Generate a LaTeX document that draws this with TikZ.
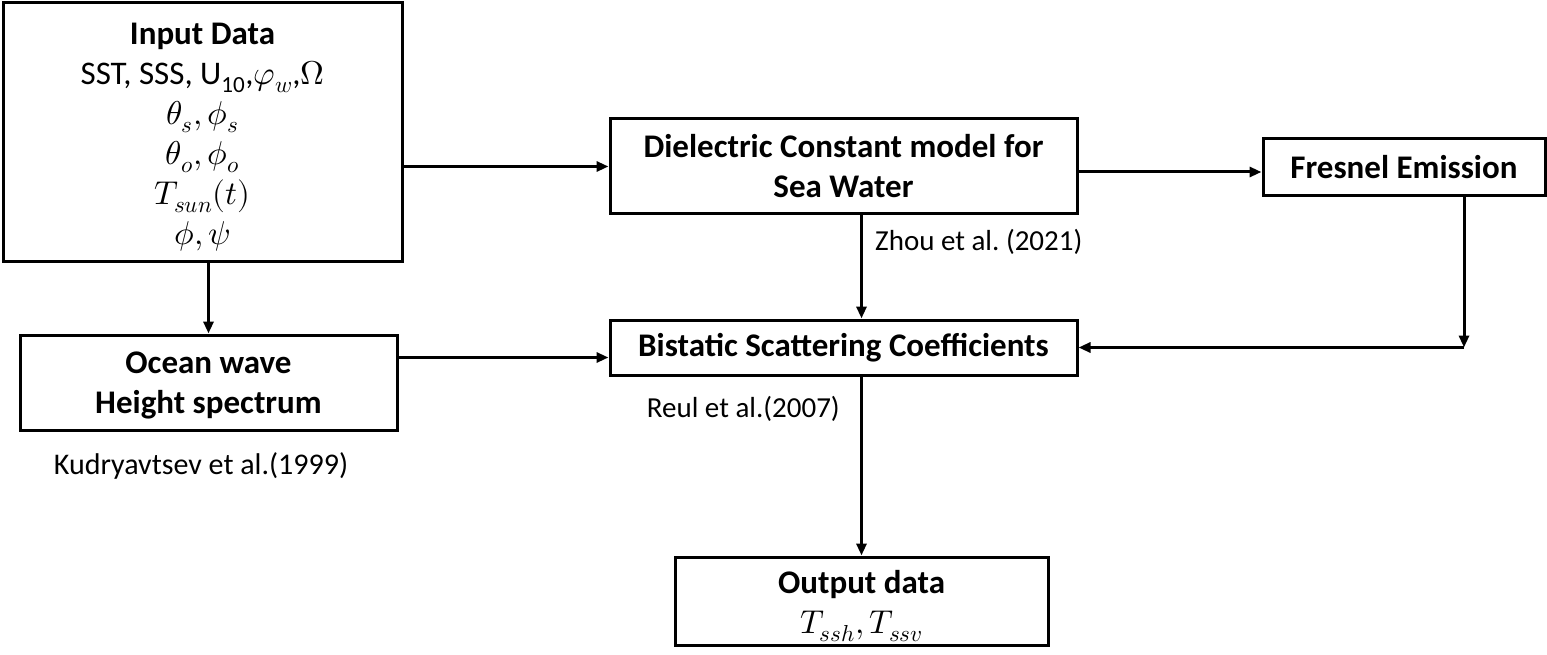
\documentclass[tikz,border=0pt]{standalone}
\usepackage{fontspec}
\usepackage{unicode-math}
\setmainfont{Carlito}
\setmathfont{Latin Modern Math}
\frenchspacing
\usetikzlibrary{arrows.meta}
\begin{document}
\begin{tikzpicture}[x=1pt,y=-1pt,
  box/.style={draw,line width=3pt,align=center,inner sep=0pt,font=\fontsize{33}{40}\selectfont},
  conn/.style={line width=3pt,-{Triangle[length=12pt,width=10pt]}},
  lbl/.style={font=\fontsize{29}{34}\selectfont,inner sep=0pt}]
\useasboundingbox (0,0) rectangle (1547,655);
\node[box,minimum width=399pt,minimum height=258pt] (in) at (202.5,132)
  {\rule{0pt}{31pt}\textbf{Input Data}\\SST, SSS, U\textsubscript{10},$\varphi_w$,$\Omega$\\$\theta_s,\phi_s$\\$\theta_o,\phi_o$\\$T_{sun}(t)$\\$\phi,\psi$};
\node[box,minimum width=467pt,minimum height=95pt] (dc) at (843.5,166.5)
  {\textbf{Dielectric Constant model for}\\\textbf{Sea Water}};
\node[box,minimum width=282pt,minimum height=57pt] (fr) at (1404,167.5) {\textbf{Fresnel Emission}};
\node[box,minimum width=467pt,minimum height=55pt] (bs) at (843.5,347.5) {\textbf{Bistatic Scattering Coefficients}};
\node[box,minimum width=377pt,minimum height=95pt] (oc) at (208.5,382.5) {\rule{0pt}{28pt}\textbf{Ocean wave}\\\textbf{Height spectrum}};
\node[box,minimum width=373pt,minimum height=88pt] (out) at (861.5,601) {\rule{0pt}{33pt}\textbf{Output data}\\$T_{ssh},T_{ssv}$};
\node[lbl,anchor=west] (zh) at (875,242) {Zhou et al. (2021)};
\node[lbl,anchor=east] (re) at (840,409) {Reul et al.(2007)};
\node[lbl,font=\fontsize{30}{34}\selectfont] (ku) at (201,466) {Kudryavtsev et al.(1999)};
\draw[conn] (in.east |- dc.west) -- (dc.west);
\coordinate (d1) at ([yshift=-5.5pt]dc.east);
\draw[conn] (d1) -- (d1 -| fr.west);
\coordinate (f1) at ([xshift=60pt]fr.south);
\coordinate (fc) at (f1 |- bs.east);
\draw[conn] (f1) -- (fc);
\draw[conn] (fc) -- (bs.east);
\coordinate (d2) at (dc.south -| out.north);
\draw[conn] (d2) -- (d2 |- bs.north);
\draw[conn] (in.south -| oc.north) -- (oc.north);
\coordinate (b1) at ([yshift=-10pt]bs.west);
\draw[conn] (b1 -| oc.east) -- (b1);
\draw[conn] (bs.south -| out.north) -- (out.north);
\end{tikzpicture}
\end{document}
